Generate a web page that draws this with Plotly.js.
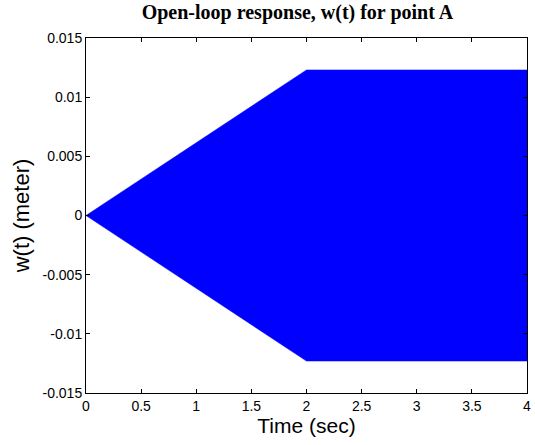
<!DOCTYPE html>
<html>
<head>
<meta charset="utf-8">
<script src="https://cdn.plot.ly/plotly-3.0.1.min.js"></script>
<style>html,body{margin:0;padding:0;background:#fff;}#chart{width:535px;height:445px;}</style>
</head>
<body>
<div id="chart"></div>
<script>
// Envelope of the oscillating response
var timeSec = [0, 2, 4];
var upperW = [0, 0.0123, 0.0123];
var lowerW = [0, -0.0123, -0.0123];

var xTickVals = [0, 0.5, 1, 1.5, 2, 2.5, 3, 3.5, 4];
var xTickText = ["0", "0.5", "1", "1.5", "2", "2.5", "3", "3.5", "4"];
var yTickVals = [-0.015, -0.01, -0.005, 0, 0.005, 0.01, 0.015];
var yTickText = ["-0.015", "-0.01", "-0.005", "0", "0.005", "0.01", "0.015"];

var traces = [
  {x: timeSec, y: lowerW, mode: 'lines', line: {color: '#0000ff', width: 0.5}, hoverinfo: 'skip', showlegend: false},
  {x: timeSec, y: upperW, mode: 'lines', fill: 'tonexty', fillcolor: '#0000ff', line: {color: '#0000ff', width: 0.5}, hoverinfo: 'skip', showlegend: false}
];

var axisCommon = {
  showline: true, linecolor: '#000', linewidth: 1, mirror: 'ticks',
  ticks: 'inside', ticklen: 4, tickwidth: 1, tickcolor: '#000',
  showgrid: false, zeroline: false,
  tickfont: {family: 'Arial, Liberation Sans, sans-serif', size: 14, color: '#000'}
};

var layout = {
  width: 535, height: 445,
  margin: {l: 86, r: 8, t: 38, b: 52},
  paper_bgcolor: '#fff', plot_bgcolor: '#fff',
  title: {text: '<b>Open-loop response, w(t) for point A</b>', x: 0.556, xanchor: 'center', yref: 'container', y: 0.988, yanchor: 'top',
          font: {family: 'Times New Roman, Liberation Serif, serif', size: 20, color: '#000'}},
  xaxis: Object.assign({}, axisCommon, {
    range: [0, 4], tickmode: 'array', tickvals: xTickVals, ticktext: xTickText,
    title: {text: 'Time (sec)', standoff: 2, font: {family: 'Arial, Liberation Sans, sans-serif', size: 21, color: '#000'}}
  }),
  yaxis: Object.assign({}, axisCommon, {
    range: [-0.015, 0.015], tickmode: 'array', tickvals: yTickVals, ticktext: yTickText,
    title: {text: 'w(t) (meter)', standoff: 6, font: {family: 'Arial, Liberation Sans, sans-serif', size: 22, color: '#000'}}
  })
};

Plotly.newPlot('chart', traces, layout, {displayModeBar: false, staticPlot: true});
</script>
</body>
</html>
